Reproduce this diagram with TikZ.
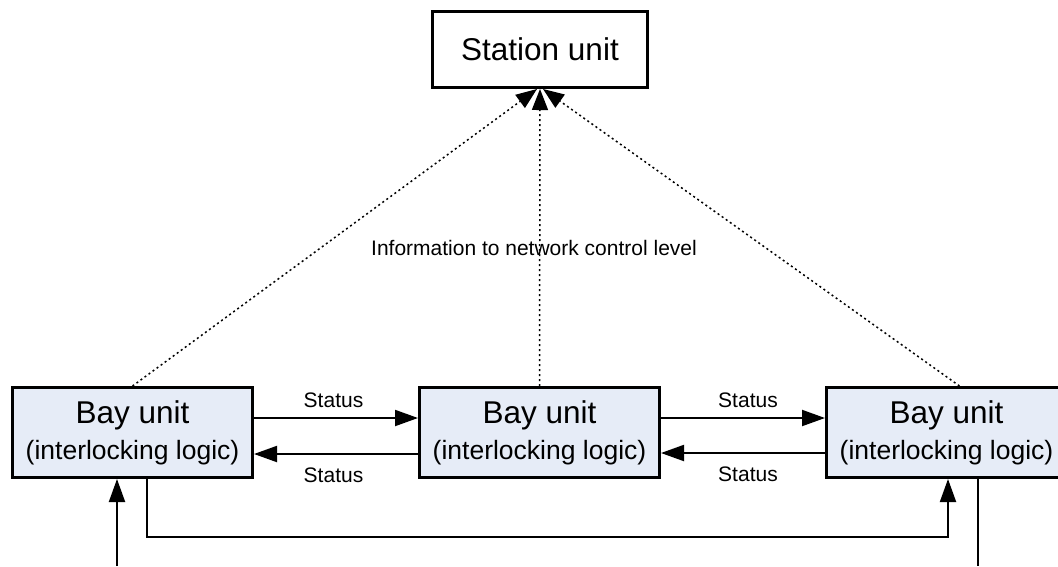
\documentclass[tikz,border=0pt]{standalone}
\usepackage{fontspec}
\setmainfont{Liberation Sans}
\usetikzlibrary{positioning,arrows.meta}
\definecolor{bayfill}{RGB}{230,236,247}

\tikzset{
  bayunit/.style={draw, line width=3pt, fill=bayfill, minimum width=240pt, minimum height=90pt, inner sep=0pt, align=center, font=\fontsize{31.5}{36}\selectfont},
  stationunit/.style={draw, line width=3pt, minimum width=215pt, minimum height=76pt, inner sep=0pt, font=\fontsize{31.5}{36}\selectfont},
  sig/.style={line width=2pt, -{Triangle[length=23pt,width=16pt]}},
  upd/.style={line width=1.5pt, dash pattern=on 2pt off 3pt, -{Triangle[length=21pt,width=16pt]}},
  lbl/.style={inner sep=0pt, font=\fontsize{21}{24}\selectfont}
}

\begin{document}
\begin{tikzpicture}[x=1pt,y=-1pt, node distance=164pt]
  \useasboundingbox (0,0) rectangle (1058,566);
  \clip (0,0) rectangle (1058,566);

  \node[stationunit] (st) at (540,49.5) {Station unit};

  \node[bayunit] (lb) at (132.5,432.5) {Bay unit\\{\fontsize{26.5}{36}\selectfont (interlocking logic)}};
  \node[bayunit, right=of lb] (mb) {Bay unit\\{\fontsize{26.5}{36}\selectfont (interlocking logic)}};
  \node[bayunit, right=of mb] (rb) {Bay unit\\{\fontsize{26.5}{36}\selectfont (interlocking logic)}};

  \node[lbl] (info) at (534,248) {Information to network control level};

  \draw[upd] (lb.north) -- ([xshift=-3pt]st.south);
  \draw[upd] (mb.north) -- (st.south);
  \draw[upd] ([xshift=13pt]rb.north) -- ([xshift=3pt]st.south);

  \draw[sig] ([yshift=14.5pt]lb.east) -- node[lbl, above=9pt, xshift=-2.5pt] {Status} ([yshift=14.5pt]mb.west);
  \draw[sig] ([yshift=-21.5pt]mb.west) -- node[lbl, below=13pt, xshift=-2.5pt] {Status} ([yshift=-21.5pt]lb.east);
  \draw[sig] ([yshift=14.5pt]mb.east) -- node[lbl, above=9pt, xshift=5pt] {Status} ([yshift=14.5pt]rb.west);
  \draw[sig] ([yshift=-20.5pt]rb.west) -- node[lbl, below=13pt, xshift=5pt] {Status} ([yshift=-20.5pt]mb.east);

  \coordinate (lin) at (117,566);
  \coordinate (rout) at (978,566);
  \draw[sig] (lin) -- (lb.south -| lin);
  \draw[sig] ([xshift=14.5pt]lb.south) -- ++(0,58) -| ([xshift=1.5pt]rb.south);
  \draw[line width=2pt] (rb.south -| rout) -- (rout);

\end{tikzpicture}
\end{document}
